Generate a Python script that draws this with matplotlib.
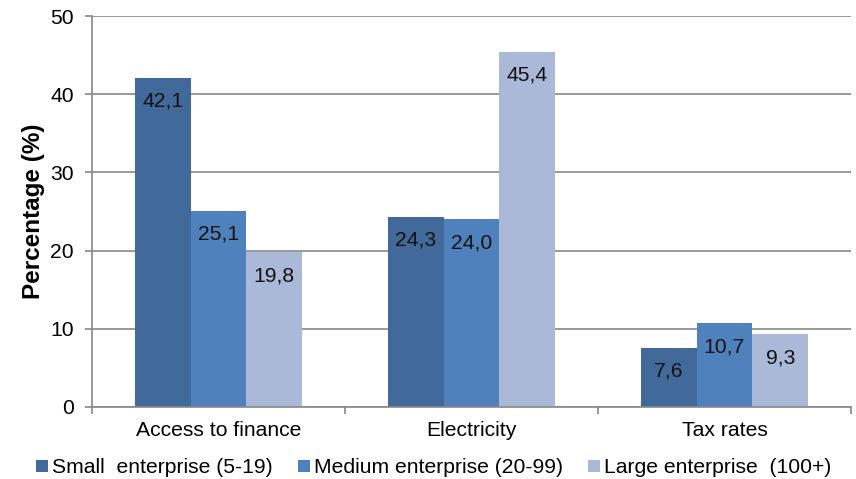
import numpy as np
import matplotlib
matplotlib.use("Agg")
import matplotlib.pyplot as plt
from matplotlib.ticker import FixedLocator

plt.rcParams['font.family'] = ['Liberation Sans', 'DejaVu Sans']

categories = ["Access to finance", "Electricity", "Tax rates"]
series_names = ["Small  enterprise (5-19)", "Medium enterprise (20-99)", "Large enterprise  (100+)"]
small = [42.1, 24.3, 7.6]
medium = [25.1, 24.0, 10.7]
large = [19.8, 45.4, 9.3]
colors = ["#41699A", "#4F81BD", "#AAB9D7"]

fs = 15.2
fig = plt.figure(figsize=(8.56, 4.79), dpi=100)
ax = fig.add_axes([92 / 856, 1 - 407 / 479, (851 - 92) / 856, (407 - 16) / 479])

x = np.arange(len(categories))
w = 0.221
for i, (vals, name) in enumerate(zip([small, medium, large], series_names)):
    pos = x + (i - 1) * w
    ax.bar(pos, vals, width=w, color=colors[i], label=name, zorder=2)
    for p, v in zip(pos, vals):
        ax.annotate(f"{v:.1f}".replace(".", ","), (p, v), xytext=(0, -10),
                    textcoords="offset points", ha="center", va="top",
                    fontsize=fs, color="#111111", zorder=3)

ax.set_xlim(-0.5, 2.5)
ax.set_ylim(0, 50)
ax.set_yticks(range(0, 51, 10))
ax.yaxis.grid(True, color="#888888", linewidth=1.2, zorder=0)
ax.set_axisbelow(True)
ax.set_xticks(x)
ax.set_xticklabels(categories, fontsize=fs)
ax.tick_params(axis="x", length=0, pad=10)
ax.xaxis.set_minor_locator(FixedLocator([-0.5, 0.5, 1.5, 2.5]))
ax.tick_params(axis="x", which="minor", length=5, color="#888888", width=1.2)
ax.tick_params(axis="y", labelsize=fs, length=5, color="#888888", width=1.2, pad=8)
for s in ["top", "right"]:
    ax.spines[s].set_visible(False)
for s in ["left", "bottom"]:
    ax.spines[s].set_color("#888888")
    ax.spines[s].set_linewidth(1.2)
ax.set_ylabel("Percentage (%)", fontsize=17.5, fontweight="bold", labelpad=4)

ax.legend(loc="center", bbox_to_anchor=(0.45, -0.156), ncol=3, frameon=False,
          fontsize=fs, handlelength=0.56, handleheight=0.56, handletextpad=0.2,
          columnspacing=1.2, borderpad=0)

fig.savefig("out.png", dpi=100)
